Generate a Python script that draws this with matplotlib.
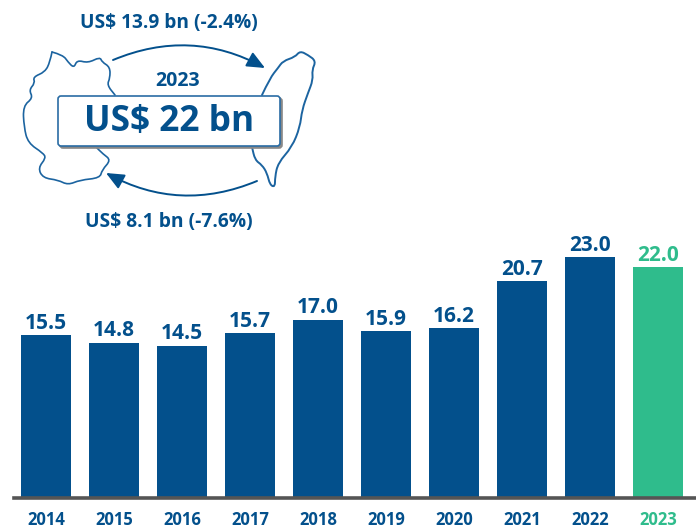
import matplotlib
matplotlib.use("Agg")
import matplotlib.pyplot as plt
from matplotlib.patches import FancyBboxPatch, FancyArrowPatch, PathPatch
from matplotlib.path import Path

years = ["2014", "2015", "2016", "2017", "2018", "2019", "2020", "2021", "2022", "2023"]
values = [15.5, 14.8, 14.5, 15.7, 17.0, 15.9, 16.2, 20.7, 23.0, 22.0]

title_year = "2023"
total_text = "US$ 22 bn"
exports_text = "US$ 13.9 bn (-2.4%)"
imports_text = "US$ 8.1 bn (-7.6%)"

BLUE = "#03508c"
GREEN = "#2fbc8c"
W, H = 696, 529

plt.rcParams["font.family"] = ["Open Sans", "DejaVu Sans"]

# rough outlines of the map, in pixels of the picture
china_top = [(52, 52), (63, 55), (68, 62), (74, 68), (77, 60), (88, 63), (100, 57),
             (102, 62), (110, 67), (110, 78), (107, 85), (115, 95)]
china_left = [(52, 52), (50, 62), (45, 72), (33, 77), (35, 83), (29, 90), (33, 98),
              (23, 106), (24, 127), (28, 143), (43, 153), (46, 158), (38, 168),
              (43, 178), (58, 180), (68, 185), (80, 180), (100, 178), (102, 170),
              (111, 160), (103, 154), (95, 146)]
taiwan = [(262, 95), (270, 78), (278, 68), (283, 61), (295, 57), (300, 51), (308, 55),
          (316, 61), (312, 70), (313, 80), (308, 93), (302, 110), (300, 127), (292, 147),
          (278, 163), (275, 177), (275, 187), (270, 185), (267, 173), (262, 165),
          (255, 160), (252, 147)]


def curva(puntos):
    # suaviza la linea con curvas cuadraticas entre puntos medios
    verts = [puntos[0]]
    codes = [Path.MOVETO]
    for i in range(1, len(puntos) - 1):
        medio = ((puntos[i][0] + puntos[i + 1][0]) / 2, (puntos[i][1] + puntos[i + 1][1]) / 2)
        verts += [puntos[i], medio]
        codes += [Path.CURVE3, Path.CURVE3]
    verts.append(puntos[-1])
    codes.append(Path.LINETO)
    return Path(verts, codes)


fig = plt.figure(figsize=(W / 100, H / 100), dpi=100)

# bars: baseline at y=497, 23.0 reaches y=257
ax = fig.add_axes([14 / W, (H - 497) / H, (W - 14) / W, (497 - 200) / H])
for s in ["top", "left", "right"]:
    ax.spines[s].set_visible(False)
ax.spines["bottom"].set_color("#555555")
ax.spines["bottom"].set_linewidth(2.6)
# set_position resets the ticks, so it goes before the labels
ax.spines["bottom"].set_position(("outward", 1))
x = list(range(len(years)))
colors = [BLUE] * 9 + [GREEN]
ax.bar(x, values, width=50 / 68, color=colors)
ax.set_xlim(-32 / 68, (W - 46) / 68)
ax.set_ylim(0, 297 / (240 / 23))
ax.set_yticks([])
ax.set_xticks(x)
ax.set_xticklabels(years)
ax.tick_params(axis="x", length=0, pad=9)
for etiqueta, col in zip(ax.get_xticklabels(), colors):
    etiqueta.set_fontsize(12)
    etiqueta.set_fontweight("bold")
    etiqueta.set_color(col)
for i in x:
    ax.annotate(f"{values[i]:.1f}", (i, values[i]), xytext=(0, 1), textcoords="offset points",
                ha="center", va="bottom", fontsize=15, fontweight="bold", color=colors[i])

# top graphic, in pixels
top = fig.add_axes([0, 0, 1, 1])
top.set_xlim(0, W)
top.set_ylim(H, 0)
top.axis("off")
top.patch.set_alpha(0)

for linea, ancho in [(china_top, 1.2), (china_left, 1.2), (taiwan, 1.4)]:
    top.add_patch(PathPatch(curva(linea), fc="none", ec="#1c64a0", lw=ancho, capstyle="round"))

top.add_patch(FancyArrowPatch((113, 60), (265, 68), connectionstyle="arc3,rad=-0.24",
                              arrowstyle="-|>,head_length=6.8,head_width=3", mutation_scale=1.6,
                              color=BLUE, lw=1.4, shrinkA=0, shrinkB=0))
top.add_patch(FancyArrowPatch((257, 181), (106, 173), connectionstyle="arc3,rad=-0.24",
                              arrowstyle="-|>,head_length=6.8,head_width=3", mutation_scale=1.6,
                              color=BLUE, lw=1.4, shrinkA=0, shrinkB=0))

for off, col, z in [(2, "#888888", 3), (0, "white", 4)]:
    top.add_patch(FancyBboxPatch((58 + off, 96 + off), 222, 50, boxstyle="round,pad=0,rounding_size=3",
                                 mutation_aspect=1, fc=col, ec="#2a6ca4" if off == 0 else col, lw=1.2, zorder=z))

top.text(178, 81, title_year, ha="center", va="center", fontsize=14, fontweight="bold", color=BLUE)
top.text(169, 122, total_text, ha="center", va="center", fontsize=25.4, fontweight="bold", color=BLUE, zorder=5)
top.text(169, 23, exports_text, ha="center", va="center", fontsize=13.8, fontweight="bold", color=BLUE)
top.text(169, 222, imports_text, ha="center", va="center", fontsize=13.9, fontweight="bold", color=BLUE)

fig.savefig("out.png", dpi=100)
